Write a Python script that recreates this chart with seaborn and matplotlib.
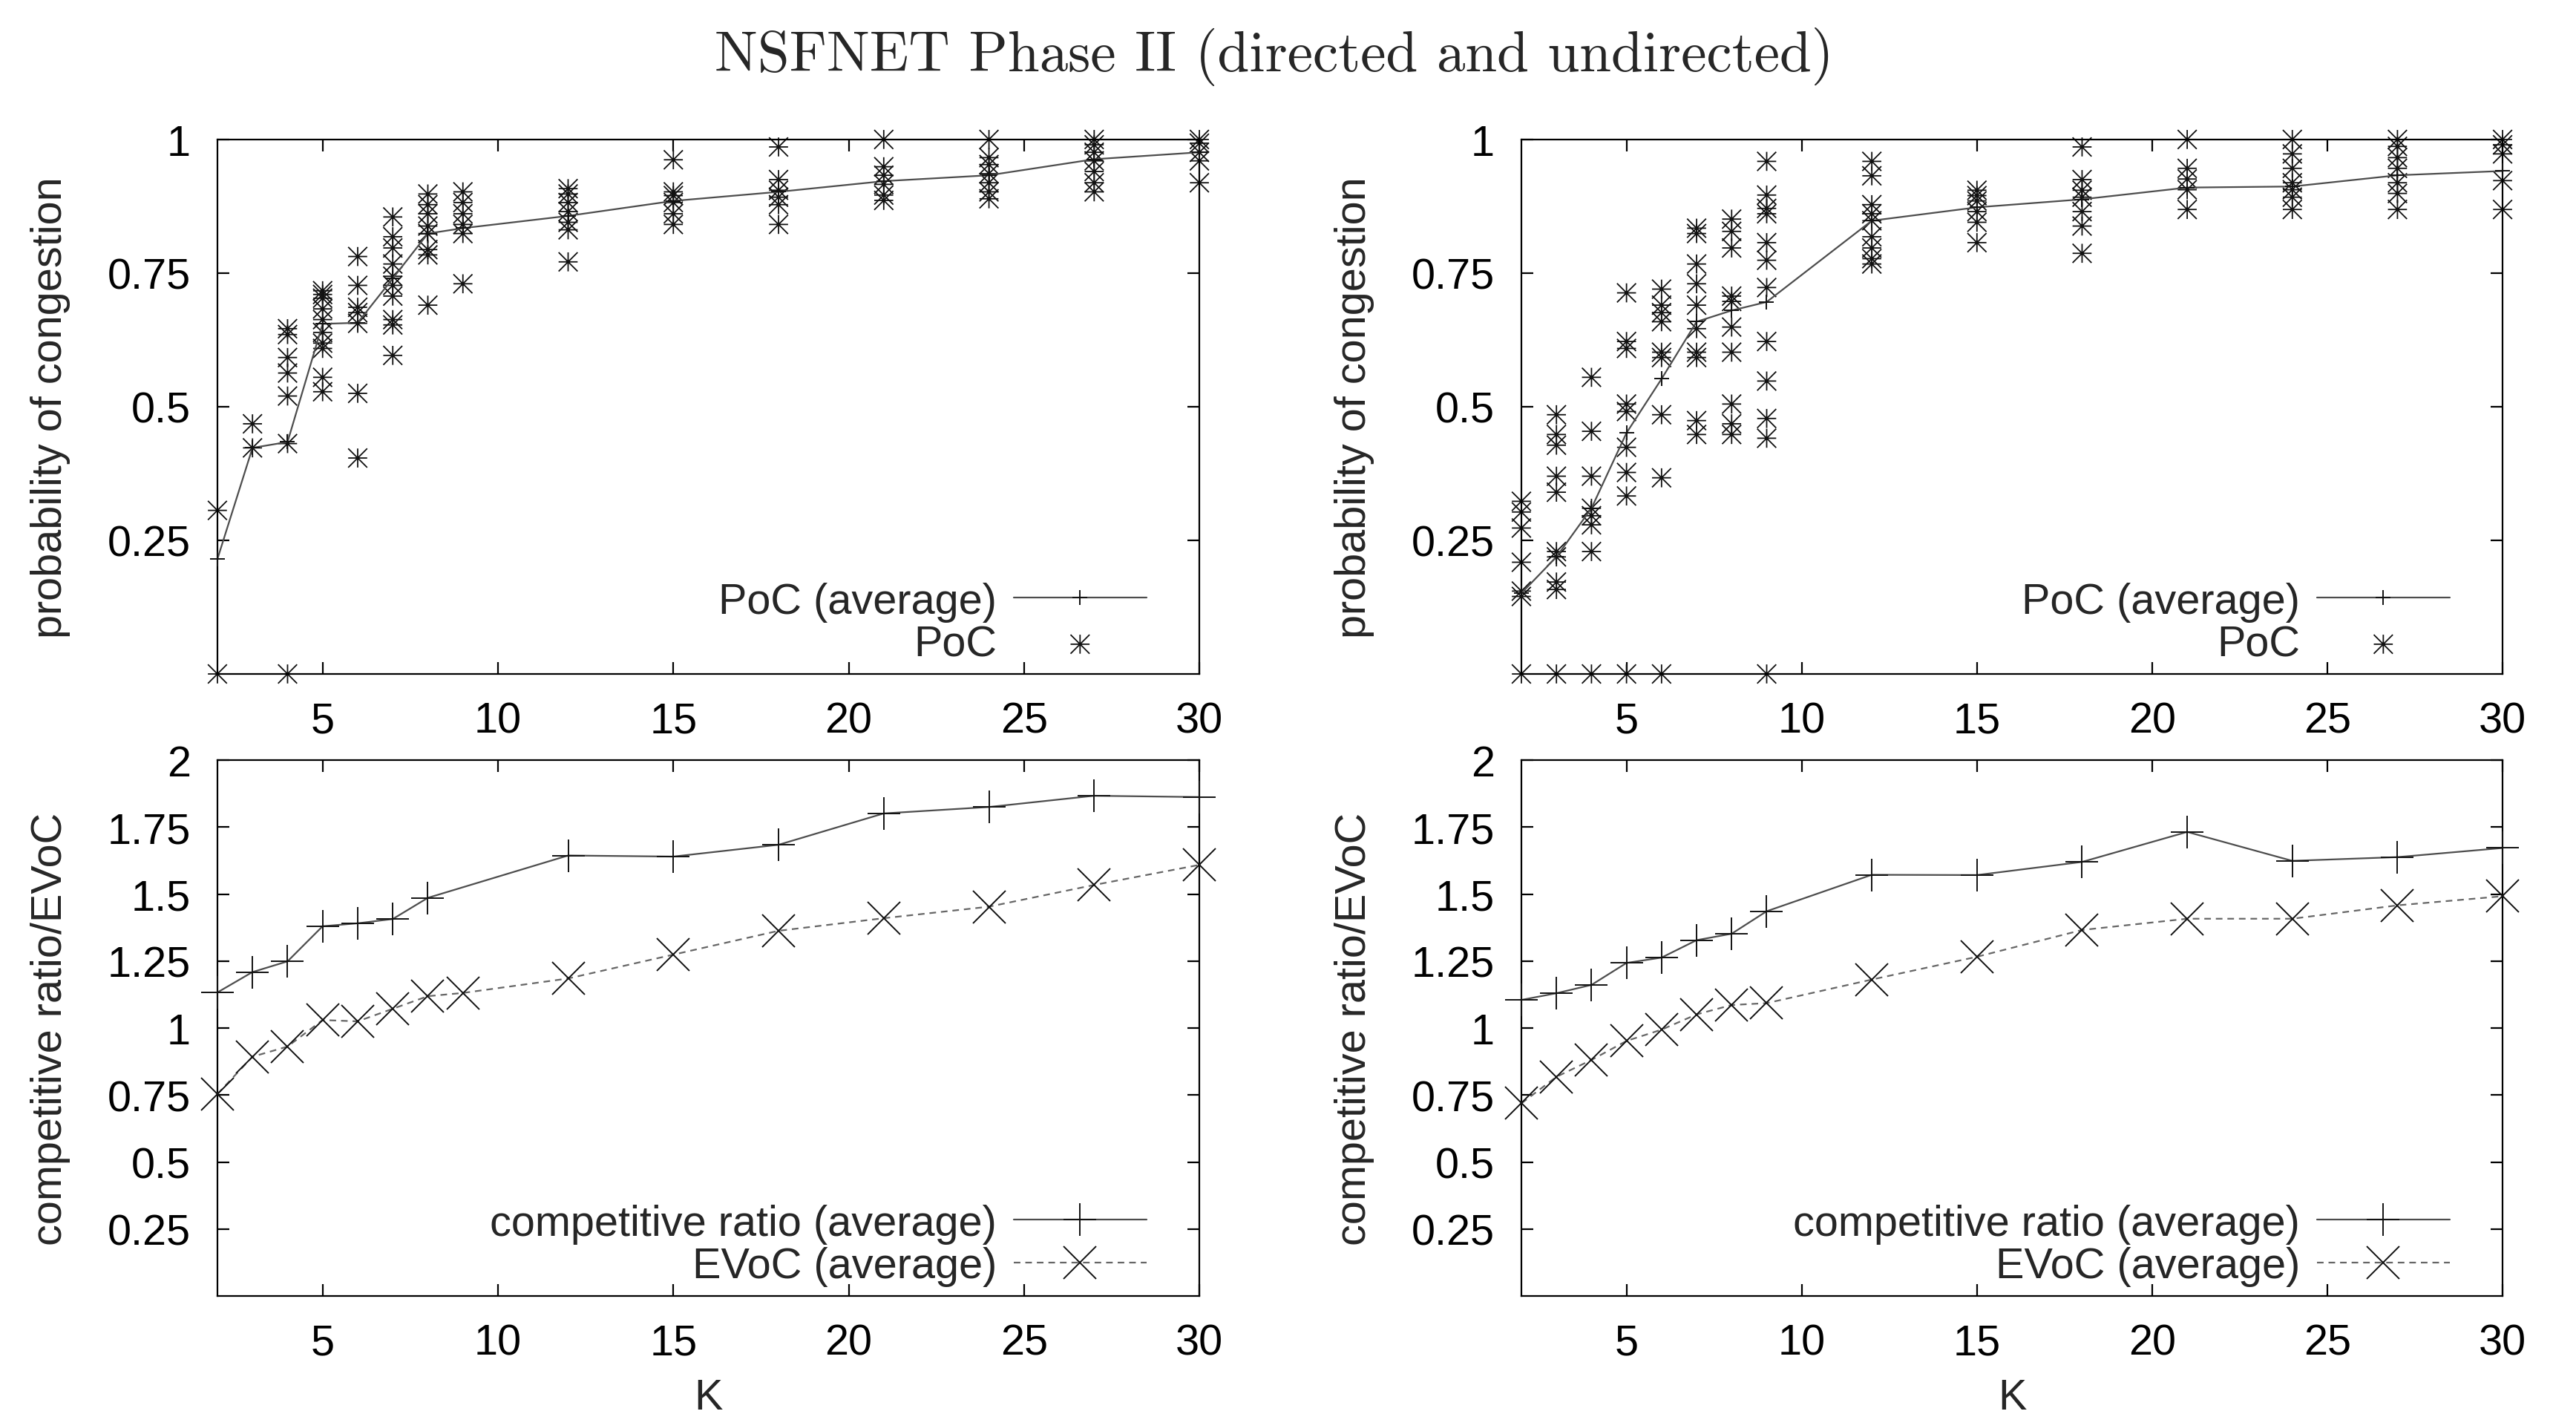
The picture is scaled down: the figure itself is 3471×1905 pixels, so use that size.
import matplotlib
matplotlib.use("Agg")
import matplotlib.pyplot as plt
import seaborn as sns
import numpy as np
import pandas as pd
from matplotlib.path import Path
from matplotlib.markers import MarkerStyle
from matplotlib.ticker import FuncFormatter

# K values
k_all = [2, 3, 4, 5, 6, 7, 8, 9, 12, 15, 18, 21, 24, 27, 30]
k_cr_dir = [2, 3, 4, 5, 6, 7, 8, 12, 15, 18, 21, 24, 27, 30]

# probability of congestion, averages
poc_avg_dir = [0.215, 0.423, 0.434, 0.655, 0.657, 0.740, 0.824, 0.834,
               0.857, 0.885, 0.902, 0.922, 0.933, 0.963, 0.976]
poc_avg_undir = [0.151, 0.219, 0.310, 0.451, 0.552, 0.659, 0.680, 0.696,
                 0.848, 0.873, 0.888, 0.910, 0.912, 0.933, 0.941]

# probability of congestion, single runs (one list per K in k_all)
poc_dir = [
    [0.306, 0.0],
    [0.468, 0.423],
    [0.646, 0.635, 0.592, 0.563, 0.520, 0.431, 0.0],
    [0.717, 0.710, 0.703, 0.683, 0.663, 0.639, 0.619, 0.609, 0.555, 0.528],
    [0.781, 0.727, 0.686, 0.676, 0.656, 0.525, 0.404],
    [0.855, 0.818, 0.797, 0.767, 0.744, 0.727, 0.707, 0.663, 0.653, 0.596],
    [0.898, 0.878, 0.861, 0.838, 0.824, 0.794, 0.784, 0.690],
    [0.902, 0.882, 0.861, 0.841, 0.824, 0.730],
    [0.908, 0.898, 0.882, 0.865, 0.845, 0.831, 0.771],
    [0.962, 0.902, 0.895, 0.882, 0.861, 0.841],
    [0.986, 0.925, 0.905, 0.892, 0.878, 0.841],
    [1.0, 0.949, 0.933, 0.916, 0.896, 0.886],
    [1.0, 0.966, 0.953, 0.936, 0.919, 0.902, 0.889],
    [1.0, 0.990, 0.976, 0.960, 0.940, 0.919, 0.902],
    [1.0, 0.993, 0.976, 0.960, 0.919],
]
poc_undir = [
    [0.323, 0.303, 0.273, 0.209, 0.155, 0.145, 0.0],
    [0.485, 0.448, 0.428, 0.370, 0.340, 0.229, 0.219, 0.172, 0.158, 0.0],
    [0.555, 0.454, 0.370, 0.310, 0.296, 0.279, 0.229, 0.0],
    [0.713, 0.622, 0.609, 0.505, 0.491, 0.424, 0.377, 0.333, 0.0],
    [0.720, 0.690, 0.676, 0.659, 0.602, 0.592, 0.485, 0.367, 0.0],
    [0.834, 0.824, 0.767, 0.730, 0.690, 0.646, 0.602, 0.592, 0.474, 0.448],
    [0.851, 0.828, 0.797, 0.707, 0.697, 0.649, 0.602, 0.505, 0.468, 0.448],
    [0.959, 0.896, 0.871, 0.861, 0.807, 0.774, 0.723, 0.622, 0.548, 0.478, 0.441, 0.0],
    [0.959, 0.932, 0.878, 0.861, 0.848, 0.818, 0.797, 0.777, 0.767],
    [0.905, 0.895, 0.885, 0.865, 0.845, 0.807],
    [0.986, 0.925, 0.905, 0.892, 0.865, 0.838, 0.787],
    [1.0, 0.946, 0.926, 0.906, 0.869],
    [1.0, 0.973, 0.946, 0.919, 0.906, 0.892, 0.869],
    [1.0, 0.987, 0.966, 0.946, 0.919, 0.899, 0.869],
    [1.0, 0.990, 0.973, 0.923, 0.869],
]

# competitive ratio and EVoC averages
cr_dir = [1.133, 1.209, 1.249, 1.380, 1.391, 1.407, 1.486,
          1.644, 1.640, 1.684, 1.801, 1.825, 1.867, 1.862]
evoc_dir = [0.754, 0.893, 0.931, 1.030, 1.025, 1.072, 1.119, 1.131,
            1.185, 1.274, 1.363, 1.410, 1.453, 1.534, 1.609]
cr_undir = [1.105, 1.130, 1.161, 1.243, 1.263, 1.328, 1.352, 1.436,
            1.572, 1.571, 1.620, 1.732, 1.624, 1.638, 1.672]
evoc_undir = [0.719, 0.818, 0.881, 0.952, 0.994, 1.051, 1.086, 1.093,
              1.181, 1.266, 1.366, 1.408, 1.408, 1.458, 1.492]

sns.set_style("ticks")
plt.rcParams['font.family'] = ['Liberation Sans', 'DejaVu Sans']
FS = 41.5

# gnuplot style asterisk: + and x on top of each other
ast_path = Path([(-1, 0), (1, 0), (0, -1), (0, 1), (-1, -1), (1, 1), (-1, 1), (1, -1)],
                [Path.MOVETO, Path.LINETO] * 4)
ast = MarkerStyle(ast_path, fillstyle='none')

LINE = '#4d4d4d'
MARK = '#111111'

fig = plt.figure(figsize=(34.71, 19.06), dpi=100)
ax_tl = fig.add_axes([0.0844, 0.5231, 0.3812, 0.3778])
ax_tr = fig.add_axes([0.5906, 0.5231, 0.3809, 0.3778])
ax_bl = fig.add_axes([0.0844, 0.0834, 0.3812, 0.3788])
ax_br = fig.add_axes([0.5906, 0.0834, 0.3809, 0.3788])


def style_axis(ax, ymax, yticks):
    ax.set_xlim(2, 30)
    ax.set_ylim(0, ymax)
    ax.set_xticks([5, 10, 15, 20, 25, 30])
    ax.set_yticks(yticks)
    ax.yaxis.set_major_formatter(FuncFormatter(lambda v, p: f'{v:g}'))
    ax.tick_params(direction='in', length=11.5, width=1.6, top=True, right=True,
                   labelsize=FS, pad=26, colors='black')
    for s in ax.spines.values():
        s.set_visible(True)
        s.set_linewidth(1.6)
        s.set_color('black')
    ax.set_xlabel('')
    ax.set_ylabel('')


def legend(ax, order):
    h, l = ax.get_legend_handles_labels()
    ax.legend([h[i] for i in order], [l[i] for i in order], loc='lower right',
              bbox_to_anchor=(0.946, 0.018), borderaxespad=0, borderpad=0,
              frameon=False, markerfirst=False, fontsize=FS, handlelength=3.1,
              handletextpad=0.4, labelspacing=0.06, numpoints=1)


for ax, vals, avg in [(ax_tl, poc_dir, poc_avg_dir), (ax_tr, poc_undir, poc_avg_undir)]:
    df = pd.DataFrame({'K': [k for k, v in zip(k_all, vals) for _ in v],
                       'PoC': [x for v in vals for x in v]})
    sns.scatterplot(data=df, x='K', y='PoC', marker=ast, s=340, color=MARK,
                    linewidth=1.3, ax=ax, label='PoC', clip_on=False, zorder=2)
    sns.lineplot(x=k_all, y=avg, ax=ax, color=LINE, lw=1.6, marker='+',
                 markersize=15, mec=MARK, mew=1.4, label='PoC (average)',
                 errorbar=None, clip_on=False, zorder=3)
    style_axis(ax, 1, [0.25, 0.5, 0.75, 1])
    ax.set_ylabel('probability of congestion', fontsize=FS, va='center')
    ax.yaxis.set_label_coords(-0.170, 0.5)
    legend(ax, [1, 0])

for ax, kc, cr, evoc in [(ax_bl, k_cr_dir, cr_dir, evoc_dir), (ax_br, k_all, cr_undir, evoc_undir)]:
    sns.lineplot(x=kc, y=cr, ax=ax, color=LINE, lw=1.6, marker='+',
                 markersize=32, mec=MARK, mew=1.4, label='competitive ratio (average)',
                 errorbar=None, clip_on=False, zorder=3)
    sns.lineplot(x=k_all, y=evoc, ax=ax, color='#666666', lw=1.6, ls=(0, (4, 3)),
                 marker='x', markersize=32, mec=MARK, mew=1.4, label='EVoC (average)',
                 errorbar=None, clip_on=False, zorder=3)
    style_axis(ax, 2, [0.25, 0.5, 0.75, 1, 1.25, 1.5, 1.75, 2])
    ax.set_ylabel('competitive ratio/EVoC', fontsize=FS, va='center')
    ax.yaxis.set_label_coords(-0.170, 0.5)
    ax.set_xlabel('K', fontsize=FS, va='center')
    ax.xaxis.set_label_coords(0.5, -0.19)
    legend(ax, [0, 1])

fig.text(0.4945, 0.960, 'NSFNET Phase II (directed and undirected)',
         family='cmr10', fontsize=55.5, ha='center', va='center')

fig.savefig('out.png', dpi=100)
